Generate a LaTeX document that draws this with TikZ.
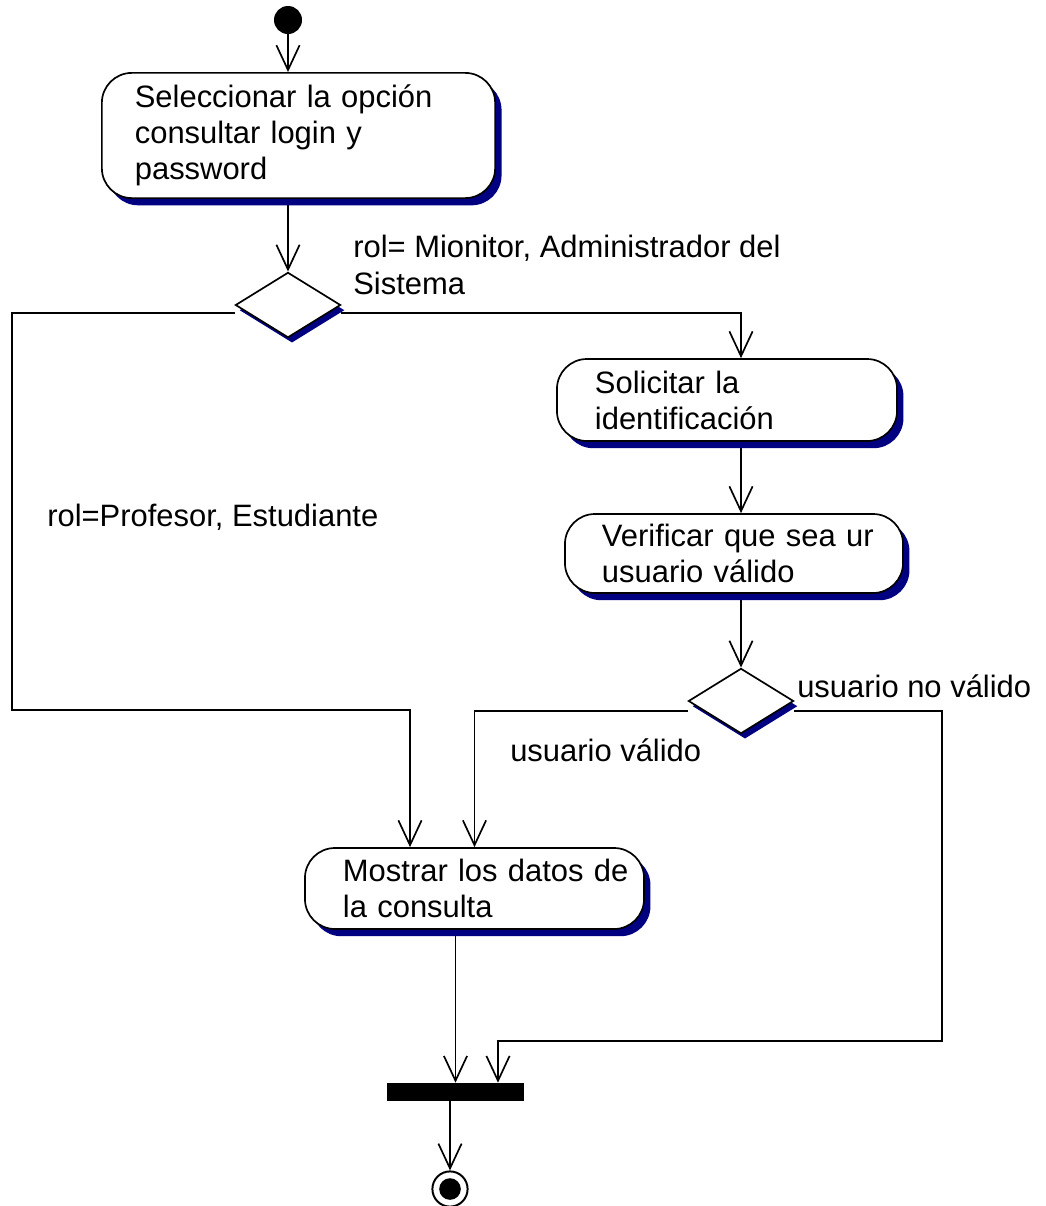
\documentclass[tikz,border=0pt]{standalone}
\usepackage{fontspec}
\setmainfont{Liberation Sans}
\usetikzlibrary{positioning,arrows.meta,calc,shapes.geometric,shadows,backgrounds}
\definecolor{RoseNavy}{RGB}{0,0,128}
\tikzset{
  flow/.style={-{Straight Barb[length=0.62cm,width=0.58cm]},line width=1.2pt},
  actbox/.style={draw,line width=1.2pt,fill=white,rounded corners=0.75cm,
    drop shadow={shadow xshift=0.16cm,shadow yshift=-0.18cm,fill=RoseNavy,opacity=1},
    align=left,font=\fontsize{22}{25.6}\selectfont},
  decision/.style={diamond,draw,line width=1.2pt,fill=white,inner sep=0pt,
    minimum width=2.63cm,minimum height=1.63cm,
    drop shadow={shadow xshift=0.1cm,shadow yshift=-0.13cm,fill=RoseNavy,opacity=1}},
  guard/.style={anchor=west,inner sep=0pt,align=left,font=\fontsize{22}{26}\selectfont},
  startnode/.style={circle,fill=black,minimum size=0.7cm,inner sep=0pt},
  endnode/.style={circle,draw,line width=1.4pt,minimum size=0.88cm,inner sep=0pt,
    path picture={\fill (path picture bounding box.center) circle[radius=0.27cm];}},
  syncbar/.style={fill=black,minimum width=3.43cm,minimum height=0.45cm,inner sep=0pt}
}

\begin{document}
\begin{tikzpicture}[x=0.025cm,y=-0.025cm]
  \useasboundingbox (0,0) rectangle (1046,1206);
  % activities
  \node[startnode] (inicio) at (288,20) {};
  \node[actbox,minimum width=9.83cm,minimum height=3.13cm,text width=8.18cm,inner xsep=0.825cm]
    (seleccionar) at (298.5,135.5) {Seleccionar la opción\\consultar login y\\password};
  \node[decision] (d1) at (288,305) {};
  \node[actbox,minimum width=8.5cm,minimum height=2.05cm,text width=6.6cm,inner xsep=0.95cm]
    (solicitar) at (727,400) {Solicitar la\\identificación};
  \node[actbox,minimum width=8.45cm,minimum height=1.975cm,text width=6.6cm,inner xsep=0.925cm]
    (verificar) at (734,553.5) {\mbox{Verificar que sea ur}\\usuario válido};
  \node[decision] (d2) at (741,701) {};
  \node[actbox,minimum width=8.475cm,minimum height=2.025cm,text width=6.575cm,inner xsep=0.95cm]
    (mostrar) at (474.5,888.5) {\mbox{Mostrar los datos de}\\la consulta};
  \node[syncbar] (barra) at (455.5,1092) {};
  \node[endnode] (fin) at (450,1189) {};
  % guards
  \node[guard] (rolAdmin) at (353,265) {rol= Mionitor, Administrador del\\Sistema};
  \node[guard] (rolProf) at (47,517) {rol=Profesor, Estudiante};
  \node[guard] (noValido) at (797,686) {usuario no válido};
  \node[guard] (valido) at (510,750) {usuario válido};
  \coordinate (rolcorner) at (12,710);
  \coordinate (novalidcorner) at (942,1041);
  % transitions
  \begin{scope}[on background layer]
    \draw[flow] (inicio) -- (inicio |- seleccionar.north);
    \draw[flow] (seleccionar.south -| d1) -- (d1.north);
    \draw[flow] ($(d1.east)+(0,8)$) -| (solicitar.north -| d2);
    \draw[flow] (solicitar.south -| d2) -- (verificar.north -| d2);
    \draw[flow] (verificar.south -| d2) -- (d2.north);
    \draw[flow] ($(d1.west)+(0,8)$) -| (rolcorner) -| ($(mostrar.north)+(-64.5,0)$);
    \draw[flow] ($(d2.west)+(0,10)$) -| (mostrar.north);
    \draw[flow] ($(d2.east)+(0,10)$) -| (novalidcorner) -| ($(barra.north)+(42.5,0)$);
    \draw[flow] (mostrar.south -| barra) -- (barra.north);
    \draw[flow] (barra.south -| fin) -- (fin.north);
  \end{scope}
\end{tikzpicture}
\end{document}
